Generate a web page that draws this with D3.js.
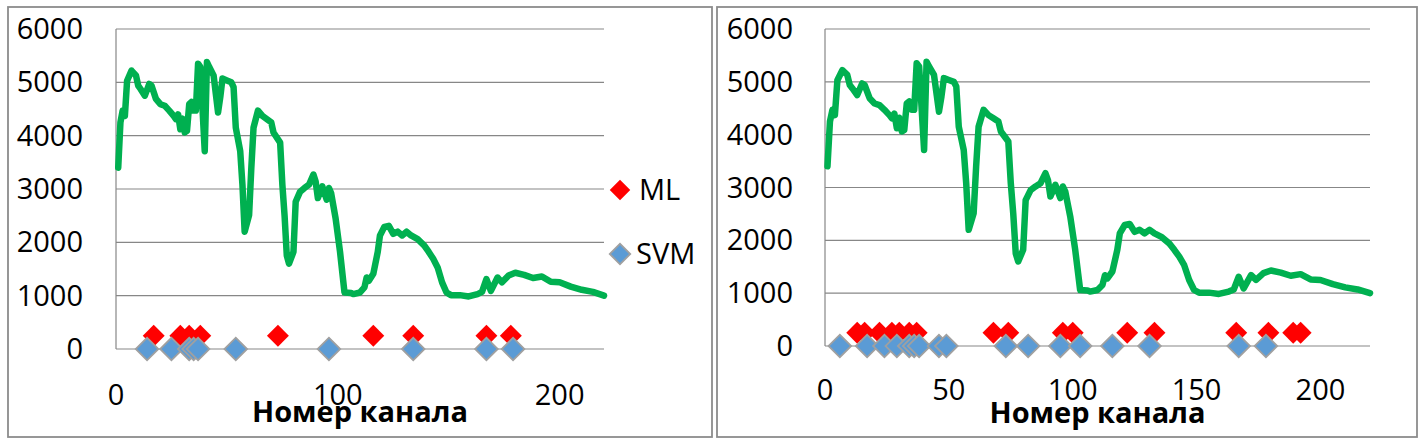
<!DOCTYPE html>
<html>
<head>
<meta charset="utf-8">
<script src="https://cdn.jsdelivr.net/npm/d3@7"></script>
<style>
  body { margin: 0; background: #fff; }
  text { font-family: "Open Sans", "Liberation Sans", sans-serif; }
</style>
</head>
<body>
<div id="chart"></div>
<script>
/* Spectrum with selected channels (ML / SVM), two panels */

// spectrum curve: channel number and value
const channels = [1, 2, 3, 4, 5, 7, 9, 10, 11, 13, 15, 16, 18, 20, 22, 24, 26, 27, 28, 29,
    30, 31, 32, 33, 34, 35, 36, 37, 38, 40, 41, 42, 44, 46, 47, 48, 50, 52, 53, 54,
    55, 56, 57, 58, 60, 61, 62, 64, 66, 68, 70, 71, 74, 75, 76, 77, 78, 80, 81, 83,
    85, 87, 89, 90, 91, 93, 95, 96, 97, 99, 101, 103, 106, 107, 110, 112, 113, 114, 116, 118,
    119, 121, 123, 125, 127, 129, 131, 133, 136, 139, 141, 143, 145, 147, 149, 151, 155, 159, 163, 165,
    167, 169, 172, 174, 177, 180, 184, 188, 192, 196, 200, 205, 210, 215, 220];
const intensity = [3400, 4250, 4470, 4370, 5030, 5220, 5130, 4940, 4880, 4750, 4970, 4940, 4690, 4590, 4560, 4470, 4370, 4310, 4400, 4120,
    4320, 4060, 4090, 4590, 4630, 4470, 4470, 5350, 5290, 3710, 5380, 5290, 5130, 4435, 4720, 5070, 5035, 5000, 4910, 4150,
    3930, 3710, 3080, 2200, 2510, 3390, 4150, 4470, 4370, 4310, 4250, 4060, 3870, 3080, 2500, 1750, 1600, 1820, 2760, 2950,
    3020, 3080, 3270, 3140, 2830, 3050, 2800, 3020, 2920, 2450, 1820, 1060, 1050, 1030, 1060, 1155, 1340, 1280, 1410, 1820,
    2130, 2290, 2310, 2160, 2200, 2130, 2200, 2130, 2060, 1940, 1820, 1690, 1530, 1250, 1060, 1010, 1010, 985, 1030, 1070,
    1310, 1090, 1340, 1250, 1380, 1430, 1390, 1330, 1360, 1260, 1250, 1170, 1110, 1070, 1000];

// selected channels, left panel
const mlLeft = [17, 29, 33, 38, 73, 116, 134, 167, 178];
const svmLeft = [14, 25, 33, 35, 37, 54, 96, 134, 167, 179];
// selected channels, right panel
const mlRight = [13, 16, 22, 27, 30, 34, 37, 68, 74, 96, 100, 122, 133, 166, 179, 189, 192];
const svmRight = [6, 17, 24, 29, 34, 36, 38, 46, 49, 73, 82, 95, 103, 116, 131, 167, 178];

const mlLevel = 250, svmLevel = 0;
const yTicks = [0, 1000, 2000, 3000, 4000, 5000, 6000];
const xTicksLeft = [0, 100, 200];
const xTicksRight = [0, 50, 100, 150, 200];
const xTitle = "Номер канала";
const legendNames = ["ML", "SVM"];

const width = 1426, height = 444;

let svg = d3.select("#chart")
    .append("svg")
    .attr("width", width)
    .attr("height", height);

svg.append("rect").attr("width", width).attr("height", height).attr("fill", "#fff");

function diamond(g, cx, cy, side, fill, stroke) {
    g.append("rect")
        .attr("x", -side / 2).attr("y", -side / 2)
        .attr("width", side).attr("height", side)
        .attr("transform", `translate(${cx},${cy}) rotate(45)`)
        .attr("fill", fill)
        .attr("stroke", stroke || "none")
        .attr("stroke-width", stroke ? 1.8 : 0);
}

function drawPanel(p) {
    let g = svg.append("g");

    g.append("rect")
        .attr("x", p.box[0]).attr("y", p.box[1])
        .attr("width", p.box[2]).attr("height", p.box[3])
        .attr("fill", "none")
        .attr("stroke", "#8c8c8c")
        .attr("stroke-width", 1.8);

    let x = d3.scaleLinear().domain([0, 220]).range([p.left, p.right]);
    let y = d3.scaleLinear().domain([0, 6000]).range([p.bottom, p.top]);

    // gridlines
    g.selectAll(".grid")
        .data(yTicks)
        .join("line")
        .attr("x1", p.left).attr("x2", p.right)
        .attr("y1", d => y(d)).attr("y2", d => y(d))
        .attr("stroke", "#878787")
        .attr("stroke-width", 1.2);

    g.append("line")
        .attr("x1", p.left).attr("x2", p.left)
        .attr("y1", y(6000)).attr("y2", y(0))
        .attr("stroke", "#878787")
        .attr("stroke-width", 1.2);

    g.selectAll(".ylab")
        .data(yTicks)
        .join("text")
        .text(d => d)
        .attr("x", p.yLabelRight)
        .attr("y", d => y(d))
        .attr("dy", "0.35em")
        .attr("text-anchor", "end")
        .style("font-size", "29px")
        .style("fill", "#000");

    g.selectAll(".xlab")
        .data(p.xTicks)
        .join("text")
        .text(d => d)
        .attr("x", d => x(d))
        .attr("y", p.tickY)
        .attr("dy", "0.35em")
        .attr("text-anchor", "middle")
        .style("font-size", "29px")
        .style("fill", "#000");

    let line = d3.line()
        .x((d, i) => x(channels[i]))
        .y(d => y(d))
        .curve(d3.curveLinear);

    g.append("path")
        .datum(intensity)
        .attr("d", line)
        .attr("fill", "none")
        .attr("stroke", "#00b050")
        .attr("stroke-width", 6.5)
        .attr("stroke-linejoin", "round")
        .attr("stroke-linecap", "round");

    for (let c of p.ml) diamond(g, x(c), y(mlLevel), 15.5, "#ff0000");
    for (let c of p.svm) diamond(g, x(c), y(svmLevel), 16, "#5b9bd5", "#a0a0a0");

    g.append("text")
        .text(xTitle)
        .attr("x", (p.left + p.right) / 2)
        .attr("y", p.titleY)
        .attr("dy", "0.35em")
        .attr("text-anchor", "middle")
        .style("font-size", "29px")
        .style("font-weight", "bold")
        .style("fill", "#000");

    if (p.legend) {
        diamond(g, p.legend[0], p.legend[1], 14.5, "#ff0000");
        g.append("text").text(legendNames[0])
            .attr("x", p.legend[0] + 19).attr("y", p.legend[1]).attr("dy", "0.35em")
            .style("font-size", "29px").style("fill", "#000");
        diamond(g, p.legend[0], p.legend[2], 14.5, "#5b9bd5", "#a0a0a0");
        g.append("text").text(legendNames[1])
            .attr("x", p.legend[0] + 16).attr("y", p.legend[2]).attr("dy", "0.35em")
            .style("font-size", "29px").style("fill", "#000");
    }
}

drawPanel({
    box: [8, 7, 704, 430],
    left: 116, right: 604, top: 29, bottom: 349,
    xTicks: xTicksLeft, tickY: 395, titleY: 412, yLabelRight: 83,
    ml: mlLeft, svm: svmLeft,
    legend: [620, 190, 254]
});

drawPanel({
    box: [717, 7, 700, 430],
    left: 825, right: 1370, top: 29, bottom: 346,
    xTicks: xTicksRight, tickY: 390, titleY: 413, yLabelRight: 793,
    ml: mlRight, svm: svmRight,
    legend: null
});
</script>
</body>
</html>
